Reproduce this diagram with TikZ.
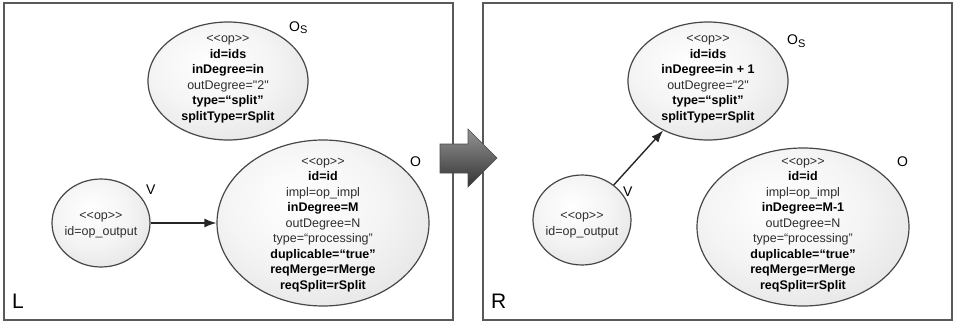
\documentclass[tikz,border=0pt]{standalone}
\usepackage{fontspec}
\setmainfont{Liberation Sans}[Ligatures=TeXOff]
\usetikzlibrary{shapes.geometric,arrows.meta}
\pgfdeclareradialshading{opball}{\pgfpoint{-6bp}{8bp}}{color(0bp)=(white); color(18bp)=(black!4); color(38bp)=(black!12); color(50bp)=(black!19); color(70bp)=(black!19)}
\begin{document}
\begin{tikzpicture}[x=1pt,y=-1pt,
  frame/.style={draw=black!65, line width=1.3pt},
  opnode/.style={ellipse, draw=black!72, line width=1.2pt, inner sep=0pt,
    shading=opball},
  optext/.style={align=center, inner sep=0pt, text=black!82,
    font=\fontsize{12.5}{15.5}\selectfont},
  lbl/.style={anchor=base west, inner sep=0pt, font=\fontsize{14}{14}\selectfont},
  big/.style={anchor=base west, inner sep=0pt, font=\fontsize{21}{21}\selectfont},
  conn/.style={-{Latex[length=12pt,width=9pt]}, line width=1.4pt, draw=black!85},
  bigarrow/.style={top color=black!42, bottom color=black!80, draw=black!70, line width=0.6pt}]
\useasboundingbox (0,0) rectangle (954,324);
\newcommand{\B}[1]{\textbf{\color{black}#1}}
% frames
\draw[frame] (4,3) rectangle (453,320);
\draw[frame] (483,3) rectangle (952,320);
% big arrow
\shade[bigarrow] (440,144) -- (468,144) -- (468,129) -- (497,158) -- (468,187) -- (468,173) -- (440,173) -- cycle;

% ---------- left (L) ----------
\node[opnode, minimum width=160pt, minimum height=118pt] (OsL) at (228,81) {};
\node[optext] (OsLt) at (228,79) {<<op>>\\\B{id=ids}\\\B{inDegree=in}\\outDegree="2"\\\B{type=“split”}\\\B{splitType=rSplit}};
\node[opnode, minimum width=212pt, minimum height=166pt] (OL) at (323,223) {};
\node[optext] (OLt) at (323,225) {<<op>>\\\B{id=id}\\impl=op\_impl\\\B{inDegree=M}\\outDegree=N\\type=“processing”\\\B{duplicable=“true”}\\\B{reqMerge=rMerge}\\\B{reqSplit=rSplit}};
\node[opnode, minimum width=98pt, minimum height=88pt] (VL) at (101,223) {};
\node[optext] (VLt) at (101,225) {<<op>>\\id=op\_output};
\draw[conn] (VL) -- (OL);
\node[lbl] (OsLl) at (289,31) {O{\fontsize{11}{11}\selectfont\raisebox{-2.5pt}{S}}};
\node[lbl] (OLl) at (410,166) {O};
\node[lbl] (VLl) at (146,194) {V};
\node[big] (Ltag) at (12,308) {L};

% ---------- right (R) ----------
\node[opnode, minimum width=160pt, minimum height=118pt] (OsR) at (708,81) {};
\node[optext] (OsRt) at (708,79) {<<op>>\\\B{id=ids}\\\B{inDegree=in + 1}\\outDegree="2"\\\B{type=“split”}\\\B{splitType=rSplit}};
\node[opnode, minimum width=212pt, minimum height=158pt] (OR) at (803,227) {};
\node[optext] (ORt) at (803,225) {<<op>>\\\B{id=id}\\impl=op\_impl\\\B{inDegree=M-1}\\outDegree=N\\type=“processing”\\\B{duplicable=“true”}\\\B{reqMerge=rMerge}\\\B{reqSplit=rSplit}};
\node[opnode, minimum width=98pt, minimum height=90pt] (VR) at (582,220) {};
\node[optext] (VRt) at (582,225) {<<op>>\\id=op\_output};
\draw[conn] (VR) -- (OsR);
\node[lbl] (OsRl) at (787,45) {O{\fontsize{11}{11}\selectfont\raisebox{-2.5pt}{S}}};
\node[lbl] (ORl) at (897,166) {O};
\node[lbl] (VRl) at (623,196) {V};
\node[big] (Rtag) at (491,308) {R};
\end{tikzpicture}
\end{document}
